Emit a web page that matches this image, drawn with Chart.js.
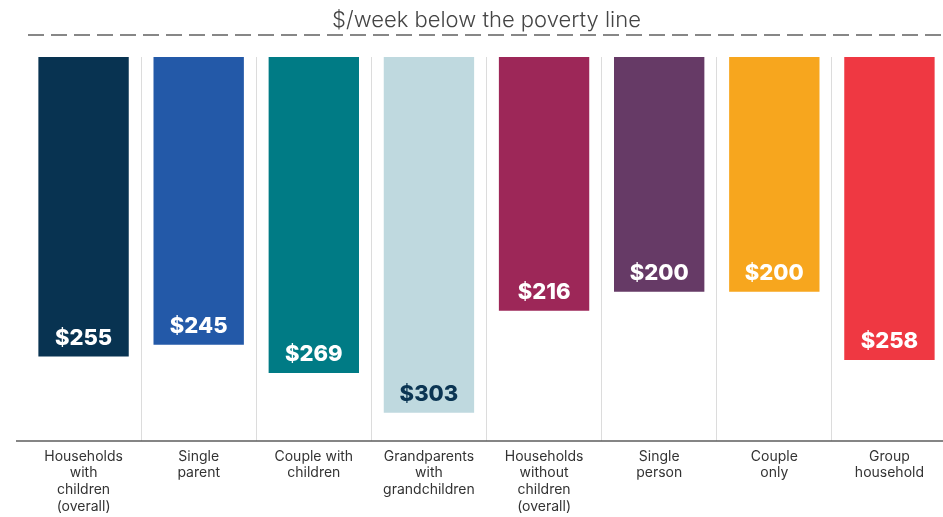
<!DOCTYPE html>
<html>
<head>
<meta charset="utf-8">
<title>Poverty gap by household type</title>
<script src="https://cdn.jsdelivr.net/npm/chart.js@4/dist/chart.umd.min.js"></script>
<style>
  html, body { margin: 0; padding: 0; background: #fff; overflow: hidden; }
  #wrap { width: 943px; height: 517px; overflow: hidden; }
</style>
</head>
<body>
<div id="wrap"><canvas id="gapChart" width="947" height="517"></canvas></div>
<script>
// household types (multi-line labels)
const categorias = [
    ['Households', 'with', 'children', '(overall)'],
    ['Single', 'parent'],
    ['Couple with', 'children'],
    ['Grandparents', 'with', 'grandchildren'],
    ['Households', 'without', 'children', '(overall)'],
    ['Single', 'person'],
    ['Couple', 'only'],
    ['Group', 'household']
];

// $ per week below the poverty line
const valores = [255, 245, 269, 303, 216, 200, 200, 258];

const cores = ['#083351', '#2359a8', '#007b85', '#bfd9df', '#9d2758', '#663a66', '#f7a61e', '#ef3842'];
const coresTexto = ['#fff', '#fff', '#fff', '#0b3553', '#fff', '#fff', '#fff', '#fff'];

// dashed poverty line under the title + x axis line
const linhasExtras = {
    id: 'linhasExtras',
    afterDraw(chart) {
        const ctx = chart.ctx;
        const area = chart.chartArea;
        ctx.save();
        ctx.strokeStyle = '#878787';
        ctx.lineWidth = 2;
        ctx.setLineDash([16, 7]);
        ctx.beginPath();
        ctx.moveTo(28, 35);
        ctx.lineTo(chart.width, 35);
        ctx.stroke();

        ctx.setLineDash([]);
        ctx.strokeStyle = '#5c5c5c';
        ctx.lineWidth = 1.5;
        ctx.beginPath();
        ctx.moveTo(16, area.bottom);
        ctx.lineTo(chart.width, area.bottom);
        ctx.stroke();
        ctx.restore();
    }
};

// value labels near the bottom of each bar
const rotulosValor = {
    id: 'rotulosValor',
    afterDatasetsDraw(chart) {
        const ctx = chart.ctx;
        const meta = chart.getDatasetMeta(0);
        ctx.save();
        ctx.font = '800 22px Inter, "Noto Sans", sans-serif';
        ctx.textAlign = 'center';
        ctx.textBaseline = 'middle';
        meta.data.forEach((bar, i) => {
            ctx.fillStyle = coresTexto[i];
            ctx.fillText('$' + valores[i], bar.x, bar.y - 18.5);
        });
        ctx.restore();
    }
};

new Chart(document.getElementById('gapChart'), {
    type: 'bar',
    data: {
        labels: categorias,
        datasets: [{
            data: valores,
            backgroundColor: cores,
            borderWidth: 0,
            categoryPercentage: 1,
            barPercentage: 0.785
        }]
    },
    options: {
        responsive: false,
        animation: false,
        devicePixelRatio: 1,
        layout: { padding: { left: 26, right: 0, top: 0, bottom: 2 } },
        scales: {
            y: {
                display: false,
                reverse: true,
                min: 0,
                max: 327
            },
            x: {
                border: { display: false },
                afterFit: scale => { scale.height = 74; },
                grid: {
                    offset: true,
                    drawTicks: false,
                    color: ctx => (ctx.index === 0 || ctx.index === categorias.length) ? 'rgba(0,0,0,0)' : '#dcdcdc',
                    lineWidth: 1
                },
                ticks: {
                    padding: 7,
                    color: '#333',
                    maxRotation: 0,
                    autoSkip: false,
                    font: { family: 'Inter, "Noto Sans", sans-serif', size: 14, lineHeight: 1.2 }
                }
            }
        },
        plugins: {
            legend: { display: false },
            tooltip: { enabled: false },
            title: {
                display: true,
                text: '$/week below the poverty line',
                color: '#454545',
                font: { family: 'Inter, "Noto Sans", sans-serif', size: 22, weight: '300', lineHeight: 1.2 },
                padding: { top: 7, bottom: 23.6 }
            }
        }
    },
    plugins: [linhasExtras, rotulosValor]
});
</script>
</body>
</html>
